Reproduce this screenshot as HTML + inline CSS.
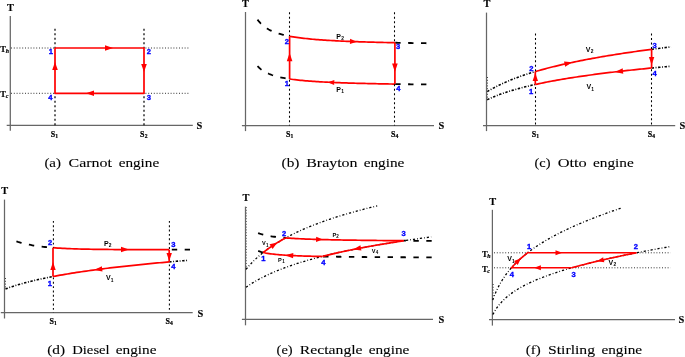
<!DOCTYPE html>
<html><head><meta charset="utf-8"><style>
html,body{margin:0;padding:0;background:#fff;width:685px;height:357px;overflow:hidden}
svg{display:block;will-change:transform}
</style></head><body>
<svg width="685" height="357" viewBox="0 0 685 357">
<line x1="10.3" y1="16" x2="10.3" y2="130.8" stroke="#666666" stroke-width="1.25" stroke-linecap="butt"/>
<line x1="6.7" y1="125.4" x2="192.8" y2="125.4" stroke="#666666" stroke-width="1.25" stroke-linecap="butt"/>
<text x="7.1" y="10.6" font-family="Liberation Serif" font-size="10.4" font-weight="bold" fill="#000" text-anchor="start" stroke="#000" stroke-width="0.15">T</text>
<text x="196.5" y="128.9" font-family="Liberation Serif" font-size="10.4" font-weight="bold" fill="#000" text-anchor="start" stroke="#000" stroke-width="0.15">S</text>
<line x1="55" y1="28.8" x2="55" y2="48" stroke="#111" stroke-width="1.3" stroke-dasharray="2 2.5" stroke-dashoffset="0" stroke-linecap="butt"/>
<line x1="55" y1="93.3" x2="55" y2="125.4" stroke="#111" stroke-width="1.3" stroke-dasharray="2 2.5" stroke-dashoffset="64.5" stroke-linecap="butt"/>
<line x1="144" y1="28.8" x2="144" y2="48" stroke="#111" stroke-width="1.3" stroke-dasharray="2 2.5" stroke-dashoffset="0" stroke-linecap="butt"/>
<line x1="144" y1="93.3" x2="144" y2="125.4" stroke="#111" stroke-width="1.3" stroke-dasharray="2 2.5" stroke-dashoffset="64.5" stroke-linecap="butt"/>
<line x1="11" y1="48" x2="55" y2="48" stroke="#333" stroke-width="1" stroke-dasharray="1 1.8" stroke-dashoffset="0" stroke-linecap="butt"/>
<line x1="144" y1="48" x2="189" y2="48" stroke="#333" stroke-width="1" stroke-dasharray="1 1.8" stroke-dashoffset="133" stroke-linecap="butt"/>
<line x1="11" y1="93.3" x2="55" y2="93.3" stroke="#333" stroke-width="1" stroke-dasharray="1 1.8" stroke-dashoffset="0" stroke-linecap="butt"/>
<line x1="144" y1="93.3" x2="189" y2="93.3" stroke="#333" stroke-width="1" stroke-dasharray="1 1.8" stroke-dashoffset="133" stroke-linecap="butt"/>
<polyline points="55,48 144,48 144,93.3 55,93.3 55,48" fill="none" stroke="#ff0000" stroke-width="1.7" stroke-opacity="1" stroke-linecap="butt" stroke-linejoin="round"/>
<polygon points="113,48 105,50.8 105,45.2" fill="#ff0000"/>
<polygon points="144,72 141.2,64 146.8,64" fill="#ff0000"/>
<polygon points="86,93.3 94,90.5 94,96.1" fill="#ff0000"/>
<polygon points="55,62 57.8,70 52.2,70" fill="#ff0000"/>
<text x="48.8" y="54.4" font-family="Liberation Sans" font-size="7.6" font-weight="bold" fill="#0000ff" text-anchor="start" stroke="#0000ff" stroke-width="0.35">1</text>
<text x="146.7" y="54.4" font-family="Liberation Sans" font-size="7.6" font-weight="bold" fill="#0000ff" text-anchor="start" stroke="#0000ff" stroke-width="0.35">2</text>
<text x="146.8" y="100.2" font-family="Liberation Sans" font-size="7.6" font-weight="bold" fill="#0000ff" text-anchor="start" stroke="#0000ff" stroke-width="0.35">3</text>
<text x="48.2" y="99.9" font-family="Liberation Sans" font-size="7.6" font-weight="bold" fill="#0000ff" text-anchor="start" stroke="#0000ff" stroke-width="0.35">4</text>
<text x="0.3" y="51.7" font-family="Liberation Serif" font-size="8.5" font-weight="bold" fill="#000" stroke="#000" stroke-width="0.2">T<tspan font-size="5.95" dx="-0.3" dy="1.2" font-style="italic">h</tspan></text>
<text x="0.3" y="96.8" font-family="Liberation Serif" font-size="8.5" font-weight="bold" fill="#000" stroke="#000" stroke-width="0.2">T<tspan font-size="5.95" dx="-0.3" dy="1.2" font-style="italic">c</tspan></text>
<text x="50.7" y="136.7" font-family="Liberation Serif" font-size="8" font-weight="bold" fill="#000" stroke="#000" stroke-width="0.2">S<tspan font-size="5.6" dx="0.2" dy="1.2">1</tspan></text>
<text x="140.1" y="136.7" font-family="Liberation Serif" font-size="8" font-weight="bold" fill="#000" stroke="#000" stroke-width="0.2">S<tspan font-size="5.6" dx="0.2" dy="1.2">2</tspan></text>
<text x="44.4" y="166.8" font-family="Liberation Serif" font-size="13" fill="#000" stroke="#000" stroke-width="0.1" textLength="16.6" lengthAdjust="spacingAndGlyphs">(a)</text>
<text x="68.5" y="166.8" font-family="Liberation Serif" font-size="13" fill="#000" stroke="#000" stroke-width="0.1" textLength="43.4" lengthAdjust="spacingAndGlyphs">Carnot</text>
<text x="118.7" y="166.8" font-family="Liberation Serif" font-size="13" fill="#000" stroke="#000" stroke-width="0.1" textLength="40.5" lengthAdjust="spacingAndGlyphs">engine</text>
<line x1="245.5" y1="12" x2="245.5" y2="131.1" stroke="#666666" stroke-width="1.25" stroke-linecap="butt"/>
<line x1="241.9" y1="125.5" x2="434" y2="125.5" stroke="#666666" stroke-width="1.25" stroke-linecap="butt"/>
<text x="242.1" y="7" font-family="Liberation Serif" font-size="10.4" font-weight="bold" fill="#000" text-anchor="start" stroke="#000" stroke-width="0.15">T</text>
<text x="438.6" y="129.4" font-family="Liberation Serif" font-size="10.4" font-weight="bold" fill="#000" text-anchor="start" stroke="#000" stroke-width="0.15">S</text>
<polyline points="257.5,19.61 259.11,21.7 260.71,23.47 262.31,25.01 263.92,26.34 265.52,27.52 267.13,28.56 268.74,29.49 270.34,30.33 271.94,31.08 273.55,31.76 275.16,32.39 276.76,32.96 278.37,33.48 279.97,33.96 281.58,34.41 283.18,34.82 284.79,35.21 286.39,35.57 288,35.9 289.6,36.22" fill="none" stroke="#000" stroke-width="1.8" stroke-dasharray="5.4 7.5" stroke-dashoffset="0" stroke-linecap="butt" stroke-linejoin="round"/>
<polyline points="394.9,42.71 396.5,42.74 398.11,42.78 399.71,42.81 401.32,42.84 402.92,42.87 404.53,42.89 406.13,42.92 407.74,42.95 409.34,42.98 410.95,43 412.56,43.03 414.16,43.06 415.76,43.08 417.37,43.11 418.98,43.13 420.58,43.15 422.19,43.18 423.79,43.2 425.39,43.22 427,43.25" fill="none" stroke="#000" stroke-width="1.8" stroke-dasharray="5.4 7.5" stroke-dashoffset="12.6" stroke-linecap="butt" stroke-linejoin="round"/>
<polyline points="289.6,36.22 291.38,36.55 293.17,36.85 294.95,37.14 296.74,37.41 298.52,37.66 300.31,37.9 302.09,38.12 303.88,38.33 305.66,38.53 307.45,38.72 309.23,38.9 311.02,39.08 312.8,39.24 314.59,39.4 316.37,39.54 318.16,39.69 319.94,39.82 321.73,39.95 323.51,40.07 325.29,40.19 327.08,40.31 328.86,40.42 330.65,40.52 332.43,40.62 334.22,40.72 336,40.82 337.79,40.91 339.57,40.99 341.36,41.08 343.14,41.16 344.93,41.24 346.71,41.32 348.5,41.39 350.28,41.46 352.07,41.53 353.85,41.6 355.64,41.66 357.42,41.72 359.21,41.78 360.99,41.84 362.77,41.9 364.56,41.96 366.34,42.01 368.13,42.06 369.91,42.12 371.7,42.17 373.48,42.21 375.27,42.26 377.05,42.31 378.84,42.35 380.62,42.4 382.41,42.44 384.19,42.48 385.98,42.52 387.76,42.56 389.55,42.6 391.33,42.64 393.12,42.68 394.9,42.71" fill="none" stroke="#ff0000" stroke-width="1.7" stroke-opacity="1" stroke-linecap="butt" stroke-linejoin="round"/>
<polyline points="257.5,66.13 259.11,67.73 260.71,69.1 262.31,70.29 263.92,71.32 265.52,72.23 267.13,73.04 268.74,73.76 270.34,74.4 271.94,74.99 273.55,75.52 275.16,76 276.76,76.45 278.37,76.86 279.97,77.23 281.58,77.58 283.18,77.9 284.79,78.2 286.39,78.48 288,78.74 289.6,78.99" fill="none" stroke="#000" stroke-width="1.8" stroke-dasharray="5.4 7.5" stroke-dashoffset="0" stroke-linecap="butt" stroke-linejoin="round"/>
<polyline points="394.9,84.06 396.5,84.09 398.11,84.11 399.71,84.14 401.32,84.16 402.92,84.18 404.53,84.21 406.13,84.23 407.74,84.25 409.34,84.27 410.95,84.29 412.56,84.31 414.16,84.33 415.76,84.35 417.37,84.37 418.98,84.39 420.58,84.41 422.19,84.43 423.79,84.45 425.39,84.46 427,84.48" fill="none" stroke="#000" stroke-width="1.8" stroke-dasharray="5.4 7.5" stroke-dashoffset="12.6" stroke-linecap="butt" stroke-linejoin="round"/>
<polyline points="289.6,78.99 291.38,79.24 293.17,79.48 294.95,79.7 296.74,79.91 298.52,80.11 300.31,80.3 302.09,80.47 303.88,80.64 305.66,80.79 307.45,80.94 309.23,81.08 311.02,81.22 312.8,81.35 314.59,81.47 316.37,81.58 318.16,81.69 319.94,81.8 321.73,81.9 323.51,82 325.29,82.09 327.08,82.18 328.86,82.27 330.65,82.35 332.43,82.43 334.22,82.51 336,82.58 337.79,82.65 339.57,82.72 341.36,82.78 343.14,82.85 344.93,82.91 346.71,82.97 348.5,83.03 350.28,83.08 352.07,83.14 353.85,83.19 355.64,83.24 357.42,83.29 359.21,83.34 360.99,83.38 362.77,83.43 364.56,83.47 366.34,83.51 368.13,83.56 369.91,83.6 371.7,83.64 373.48,83.67 375.27,83.71 377.05,83.75 378.84,83.78 380.62,83.82 382.41,83.85 384.19,83.88 385.98,83.92 387.76,83.95 389.55,83.98 391.33,84.01 393.12,84.04 394.9,84.06" fill="none" stroke="#ff0000" stroke-width="1.7" stroke-opacity="1" stroke-linecap="butt" stroke-linejoin="round"/>
<line x1="289.5" y1="12.2" x2="289.5" y2="36.22" stroke="#000" stroke-width="1.05" stroke-dasharray="2 2.5" stroke-dashoffset="0" stroke-linecap="butt"/>
<line x1="289.5" y1="78.99" x2="289.5" y2="125.5" stroke="#000" stroke-width="1.05" stroke-dasharray="2 2.5" stroke-dashoffset="66.79" stroke-linecap="butt"/>
<line x1="394.5" y1="12.2" x2="394.5" y2="42.71" stroke="#000" stroke-width="1.05" stroke-dasharray="2 2.5" stroke-dashoffset="0" stroke-linecap="butt"/>
<line x1="394.5" y1="84.06" x2="394.5" y2="125.5" stroke="#000" stroke-width="1.05" stroke-dasharray="2 2.5" stroke-dashoffset="71.86" stroke-linecap="butt"/>
<line x1="289.6" y1="78.99" x2="289.6" y2="36.22" stroke="#ff0000" stroke-width="1.7" stroke-opacity="1" stroke-linecap="butt"/>
<line x1="394.9" y1="42.71" x2="394.9" y2="84.06" stroke="#ff0000" stroke-width="1.7" stroke-opacity="1" stroke-linecap="butt"/>
<polygon points="289.6,52.75 292.4,61.25 286.8,61.25" fill="#ff0000"/>
<polygon points="394.9,72.05 392.1,63.55 397.7,63.55" fill="#ff0000"/>
<polygon points="356.8,41.71 349.91,44.05 350.1,38.85" fill="#ff0000"/>
<polygon points="327.75,82.22 334.36,80.01 334.13,85.01" fill="#ff0000"/>
<text x="284.7" y="43.5" font-family="Liberation Sans" font-size="7.6" font-weight="bold" fill="#0000ff" text-anchor="start" stroke="#0000ff" stroke-width="0.35">2</text>
<text x="284.7" y="86.2" font-family="Liberation Sans" font-size="7.6" font-weight="bold" fill="#0000ff" text-anchor="start" stroke="#0000ff" stroke-width="0.35">1</text>
<text x="396.1" y="48.6" font-family="Liberation Sans" font-size="7.6" font-weight="bold" fill="#0000ff" text-anchor="start" stroke="#0000ff" stroke-width="0.35">3</text>
<text x="396.2" y="91.1" font-family="Liberation Sans" font-size="7.6" font-weight="bold" fill="#0000ff" text-anchor="start" stroke="#0000ff" stroke-width="0.35">4</text>
<text x="336.3" y="38.6" font-family="Liberation Sans" font-size="7" font-weight="bold" fill="#000">P<tspan font-size="4.9" dx="0.2" dy="1.8">2</tspan></text>
<text x="336.3" y="91.6" font-family="Liberation Sans" font-size="7" font-weight="bold" fill="#000">P<tspan font-size="4.9" dx="0.2" dy="1.8">1</tspan></text>
<text x="285.9" y="136.6" font-family="Liberation Serif" font-size="8" font-weight="bold" fill="#000" stroke="#000" stroke-width="0.2">S<tspan font-size="5.6" dx="0.2" dy="1.2">1</tspan></text>
<text x="390.9" y="136.6" font-family="Liberation Serif" font-size="8" font-weight="bold" fill="#000" stroke="#000" stroke-width="0.2">S<tspan font-size="5.6" dx="0.2" dy="1.2">4</tspan></text>
<text x="281.6" y="166.7" font-family="Liberation Serif" font-size="13" fill="#000" stroke="#000" stroke-width="0.1" textLength="17.9" lengthAdjust="spacingAndGlyphs">(b)</text>
<text x="306.2" y="166.7" font-family="Liberation Serif" font-size="13" fill="#000" stroke="#000" stroke-width="0.1" textLength="51.4" lengthAdjust="spacingAndGlyphs">Brayton</text>
<text x="363.7" y="166.7" font-family="Liberation Serif" font-size="13" fill="#000" stroke="#000" stroke-width="0.1" textLength="40.7" lengthAdjust="spacingAndGlyphs">engine</text>
<line x1="486.5" y1="12.6" x2="486.5" y2="131.1" stroke="#666666" stroke-width="1.25" stroke-linecap="butt"/>
<line x1="483" y1="125.5" x2="675.2" y2="125.5" stroke="#666666" stroke-width="1.25" stroke-linecap="butt"/>
<text x="483.5" y="6.6" font-family="Liberation Serif" font-size="10.4" font-weight="bold" fill="#000" text-anchor="start" stroke="#000" stroke-width="0.15">T</text>
<text x="679.5" y="129.4" font-family="Liberation Serif" font-size="10.4" font-weight="bold" fill="#000" text-anchor="start" stroke="#000" stroke-width="0.15">S</text>
<polyline points="487.2,91.64 488.43,90.89 489.67,90.16 490.9,89.45 492.13,88.76 493.37,88.09 494.6,87.43 495.83,86.78 497.07,86.16 498.3,85.54 499.53,84.94 500.77,84.35 502,83.78 503.23,83.22 504.47,82.66 505.7,82.12 506.93,81.59 508.17,81.07 509.4,80.56 510.63,80.06 511.87,79.57 513.1,79.08 514.33,78.61 515.57,78.14 516.8,77.68 518.03,77.23 519.27,76.79 520.5,76.35 521.73,75.92 522.97,75.5 524.2,75.08 525.43,74.67 526.67,74.26 527.9,73.86 529.13,73.47 530.37,73.08 531.6,72.7 532.83,72.32 534.07,71.95 535.3,71.59" fill="none" stroke="#000" stroke-width="1.6" stroke-dasharray="2.4 1.6 0.9 1.6" stroke-linecap="butt" stroke-linejoin="round"/>
<polyline points="651.6,49.34 652.62,49.2 653.64,49.07 654.66,48.94 655.68,48.81 656.71,48.68 657.73,48.55 658.75,48.42 659.77,48.29 660.79,48.16 661.81,48.03 662.83,47.91 663.85,47.78 664.87,47.65 665.89,47.53 666.92,47.4 667.94,47.28 668.96,47.16 669.98,47.03 671,46.91" fill="none" stroke="#000" stroke-width="1.6" stroke-dasharray="2.4 1.6 0.9 1.6" stroke-linecap="butt" stroke-linejoin="round"/>
<polyline points="535.3,71.59 537.27,71.01 539.24,70.45 541.21,69.89 543.18,69.35 545.16,68.82 547.13,68.3 549.1,67.79 551.07,67.28 553.04,66.79 555.01,66.31 556.98,65.83 558.95,65.36 560.93,64.9 562.9,64.45 564.87,64.01 566.84,63.57 568.81,63.14 570.78,62.71 572.75,62.3 574.72,61.88 576.69,61.48 578.67,61.08 580.64,60.69 582.61,60.3 584.58,59.92 586.55,59.54 588.52,59.17 590.49,58.8 592.46,58.44 594.44,58.08 596.41,57.73 598.38,57.38 600.35,57.03 602.32,56.69 604.29,56.36 606.26,56.03 608.23,55.7 610.21,55.38 612.18,55.06 614.15,54.74 616.12,54.43 618.09,54.12 620.06,53.81 622.03,53.51 624,53.21 625.97,52.92 627.95,52.62 629.92,52.33 631.89,52.05 633.86,51.76 635.83,51.48 637.8,51.21 639.77,50.93 641.74,50.66 643.72,50.39 645.69,50.12 647.66,49.86 649.63,49.6 651.6,49.34" fill="none" stroke="#ff0000" stroke-width="1.7" stroke-opacity="1" stroke-linecap="butt" stroke-linejoin="round"/>
<polyline points="487.2,99.72 488.43,99.14 489.67,98.58 490.9,98.03 492.13,97.5 493.37,96.98 494.6,96.47 495.83,95.98 497.07,95.5 498.3,95.03 499.53,94.57 500.77,94.12 502,93.68 503.23,93.25 504.47,92.83 505.7,92.42 506.93,92.02 508.17,91.63 509.4,91.24 510.63,90.86 511.87,90.49 513.1,90.12 514.33,89.76 515.57,89.41 516.8,89.06 518.03,88.72 519.27,88.39 520.5,88.06 521.73,87.74 522.97,87.42 524.2,87.1 525.43,86.79 526.67,86.49 527.9,86.19 529.13,85.9 530.37,85.61 531.6,85.32 532.83,85.04 534.07,84.76 535.3,84.49" fill="none" stroke="#000" stroke-width="1.6" stroke-dasharray="2.4 1.6 0.9 1.6" stroke-linecap="butt" stroke-linejoin="round"/>
<polyline points="651.6,68.02 652.62,67.93 653.64,67.83 654.66,67.73 655.68,67.64 656.71,67.54 657.73,67.44 658.75,67.35 659.77,67.25 660.79,67.16 661.81,67.07 662.83,66.97 663.85,66.88 664.87,66.79 665.89,66.7 666.92,66.61 667.94,66.51 668.96,66.42 669.98,66.33 671,66.24" fill="none" stroke="#000" stroke-width="1.6" stroke-dasharray="2.4 1.6 0.9 1.6" stroke-linecap="butt" stroke-linejoin="round"/>
<polyline points="535.3,84.49 537.27,84.06 539.24,83.63 541.21,83.22 543.18,82.82 545.16,82.42 547.13,82.03 549.1,81.65 551.07,81.28 553.04,80.91 555.01,80.55 556.98,80.2 558.95,79.85 560.93,79.51 562.9,79.17 564.87,78.84 566.84,78.52 568.81,78.2 570.78,77.88 572.75,77.58 574.72,77.27 576.69,76.97 578.67,76.68 580.64,76.38 582.61,76.1 584.58,75.81 586.55,75.54 588.52,75.26 590.49,74.99 592.46,74.72 594.44,74.46 596.41,74.2 598.38,73.94 600.35,73.69 602.32,73.44 604.29,73.19 606.26,72.94 608.23,72.7 610.21,72.46 612.18,72.23 614.15,72 616.12,71.77 618.09,71.54 620.06,71.31 622.03,71.09 624,70.87 625.97,70.65 627.95,70.44 629.92,70.23 631.89,70.01 633.86,69.81 635.83,69.6 637.8,69.4 639.77,69.19 641.74,68.99 643.72,68.8 645.69,68.6 647.66,68.41 649.63,68.21 651.6,68.02" fill="none" stroke="#ff0000" stroke-width="1.7" stroke-opacity="1" stroke-linecap="butt" stroke-linejoin="round"/>
<line x1="487.5" y1="77" x2="487.5" y2="99" stroke="#333" stroke-width="0.9" stroke-dasharray="1 1.8" stroke-linecap="butt"/>
<line x1="535.5" y1="33.6" x2="535.5" y2="71.59" stroke="#000" stroke-width="1.05" stroke-dasharray="2 2.45" stroke-dashoffset="0" stroke-linecap="butt"/>
<line x1="535.5" y1="84.49" x2="535.5" y2="125.5" stroke="#000" stroke-width="1.05" stroke-dasharray="2 2.45" stroke-dashoffset="50.89" stroke-linecap="butt"/>
<line x1="651.5" y1="33.6" x2="651.5" y2="49.34" stroke="#000" stroke-width="1.05" stroke-dasharray="2 2.45" stroke-dashoffset="0" stroke-linecap="butt"/>
<line x1="651.5" y1="68.02" x2="651.5" y2="125.5" stroke="#000" stroke-width="1.05" stroke-dasharray="2 2.45" stroke-dashoffset="34.42" stroke-linecap="butt"/>
<line x1="535.3" y1="84.49" x2="535.3" y2="71.59" stroke="#ff0000" stroke-width="1.7" stroke-opacity="1" stroke-linecap="butt"/>
<line x1="651.6" y1="49.34" x2="651.6" y2="68.02" stroke="#ff0000" stroke-width="1.7" stroke-opacity="1" stroke-linecap="butt"/>
<polygon points="535.3,73 538,81 532.6,81" fill="#ff0000"/>
<polygon points="651.6,65 648.9,57 654.3,57" fill="#ff0000"/>
<polygon points="572.41,62.36 565.16,66.69 564.02,61.42" fill="#ff0000"/>
<polygon points="615.03,71.89 622.67,68.3 623.28,73.66" fill="#ff0000"/>
<text x="529.2" y="70.5" font-family="Liberation Sans" font-size="7.6" font-weight="bold" fill="#0000ff" text-anchor="start" stroke="#0000ff" stroke-width="0.35">2</text>
<text x="529" y="93.9" font-family="Liberation Sans" font-size="7.6" font-weight="bold" fill="#0000ff" text-anchor="start" stroke="#0000ff" stroke-width="0.35">1</text>
<text x="652.4" y="47.8" font-family="Liberation Sans" font-size="7.6" font-weight="bold" fill="#0000ff" text-anchor="start" stroke="#0000ff" stroke-width="0.35">3</text>
<text x="652.5" y="75.9" font-family="Liberation Sans" font-size="7.6" font-weight="bold" fill="#0000ff" text-anchor="start" stroke="#0000ff" stroke-width="0.35">4</text>
<text x="585.8" y="51.5" font-family="Liberation Sans" font-size="7" font-weight="bold" fill="#000">V<tspan font-size="4.9" dx="0.2" dy="1.8">2</tspan></text>
<text x="586.5" y="88.8" font-family="Liberation Sans" font-size="7" font-weight="bold" fill="#000">V<tspan font-size="4.9" dx="0.2" dy="1.8">1</tspan></text>
<text x="531.7" y="136.6" font-family="Liberation Serif" font-size="8" font-weight="bold" fill="#000" stroke="#000" stroke-width="0.2">S<tspan font-size="5.6" dx="0.2" dy="1.2">1</tspan></text>
<text x="647.7" y="136.6" font-family="Liberation Serif" font-size="8" font-weight="bold" fill="#000" stroke="#000" stroke-width="0.2">S<tspan font-size="5.6" dx="0.2" dy="1.2">4</tspan></text>
<text x="534.5" y="166.7" font-family="Liberation Serif" font-size="13" fill="#000" stroke="#000" stroke-width="0.1" textLength="16" lengthAdjust="spacingAndGlyphs">(c)</text>
<text x="557.7" y="166.7" font-family="Liberation Serif" font-size="13" fill="#000" stroke="#000" stroke-width="0.1" textLength="29.1" lengthAdjust="spacingAndGlyphs">Otto</text>
<text x="593" y="166.7" font-family="Liberation Serif" font-size="13" fill="#000" stroke="#000" stroke-width="0.1" textLength="40.7" lengthAdjust="spacingAndGlyphs">engine</text>
<line x1="4.5" y1="199.6" x2="4.5" y2="318.5" stroke="#666666" stroke-width="1.25" stroke-linecap="butt"/>
<line x1="0.8" y1="312.6" x2="192.7" y2="312.6" stroke="#666666" stroke-width="1.25" stroke-linecap="butt"/>
<text x="1.3" y="193.8" font-family="Liberation Serif" font-size="10.4" font-weight="bold" fill="#000" text-anchor="start" stroke="#000" stroke-width="0.15">T</text>
<text x="197.4" y="316.5" font-family="Liberation Serif" font-size="10.4" font-weight="bold" fill="#000" text-anchor="start" stroke="#000" stroke-width="0.15">S</text>
<polyline points="16.4,241.46 17.99,241.96 19.58,242.42 21.17,242.86 22.77,243.27 24.36,243.66 25.95,244.02 27.54,244.36 29.13,244.68 30.72,244.99 32.31,245.27 33.9,245.54 35.5,245.79 37.09,246.02 38.68,246.24 40.27,246.45 41.86,246.65 43.45,246.83 45.04,247 46.63,247.17 48.23,247.32 49.82,247.46 51.41,247.6 53,247.72" fill="none" stroke="#000" stroke-width="1.8" stroke-dasharray="5.4 7.5" stroke-dashoffset="0" stroke-linecap="butt" stroke-linejoin="round"/>
<polyline points="169.2,249.69 170.93,249.69 172.67,249.69 174.4,249.69 176.13,249.69 177.87,249.69 179.6,249.69 181.33,249.69 183.07,249.69 184.8,249.7 186.53,249.7 188.27,249.7 190,249.7" fill="none" stroke="#000" stroke-width="1.8" stroke-dasharray="5.4 7.5" stroke-dashoffset="10.3" stroke-linecap="butt" stroke-linejoin="round"/>
<polyline points="5.5,288.97 6.72,288.52 7.94,288.08 9.15,287.65 10.37,287.23 11.59,286.82 12.81,286.42 14.03,286.03 15.24,285.65 16.46,285.27 17.68,284.9 18.9,284.54 20.12,284.18 21.33,283.84 22.55,283.49 23.77,283.16 24.99,282.83 26.21,282.51 27.42,282.19 28.64,281.87 29.86,281.57 31.08,281.26 32.29,280.97 33.51,280.67 34.73,280.38 35.95,280.1 37.17,279.82 38.38,279.54 39.6,279.27 40.82,279 42.04,278.74 43.26,278.48 44.47,278.22 45.69,277.97 46.91,277.72 48.13,277.47 49.35,277.23 50.56,276.99 51.78,276.75 53,276.52" fill="none" stroke="#000" stroke-width="1.6" stroke-dasharray="2.4 1.6 0.9 1.6" stroke-linecap="butt" stroke-linejoin="round"/>
<polyline points="169.2,261.9 170.95,261.75 172.69,261.6 174.44,261.45 176.18,261.3 177.93,261.15 179.67,261.01 181.42,260.86 183.16,260.72 184.91,260.58 186.65,260.44 188.4,260.3" fill="none" stroke="#000" stroke-width="1.6" stroke-dasharray="2.4 1.6 0.9 1.6" stroke-linecap="butt" stroke-linejoin="round"/>
<line x1="5.5" y1="278" x2="5.5" y2="289" stroke="#333" stroke-width="0.9" stroke-dasharray="1 1.8" stroke-linecap="butt"/>
<polyline points="53,247.72 55.37,247.9 57.74,248.06 60.11,248.2 62.49,248.34 64.86,248.46 67.23,248.57 69.6,248.67 71.97,248.76 74.34,248.84 76.71,248.92 79.09,248.99 81.46,249.05 83.83,249.11 86.2,249.16 88.57,249.21 90.94,249.25 93.31,249.29 95.69,249.33 98.06,249.36 100.43,249.39 102.8,249.42 105.17,249.45 107.54,249.47 109.91,249.49 112.29,249.51 114.66,249.53 117.03,249.54 119.4,249.56 121.77,249.57 124.14,249.58 126.51,249.59 128.89,249.6 131.26,249.61 133.63,249.62 136,249.63 138.37,249.64 140.74,249.64 143.11,249.65 145.49,249.65 147.86,249.66 150.23,249.66 152.6,249.67 154.97,249.67 157.34,249.67 159.71,249.68 162.09,249.68 164.46,249.68 166.83,249.68 169.2,249.69" fill="none" stroke="#ff0000" stroke-width="1.7" stroke-opacity="1" stroke-linecap="butt" stroke-linejoin="round"/>
<polyline points="53,276.52 55.37,276.07 57.74,275.63 60.11,275.2 62.49,274.79 64.86,274.38 67.23,273.98 69.6,273.59 71.97,273.2 74.34,272.83 76.71,272.46 79.09,272.1 81.46,271.75 83.83,271.4 86.2,271.06 88.57,270.72 90.94,270.39 93.31,270.07 95.69,269.75 98.06,269.44 100.43,269.13 102.8,268.83 105.17,268.53 107.54,268.24 109.91,267.95 112.29,267.67 114.66,267.39 117.03,267.11 119.4,266.84 121.77,266.57 124.14,266.31 126.51,266.05 128.89,265.79 131.26,265.54 133.63,265.29 136,265.04 138.37,264.8 140.74,264.56 143.11,264.32 145.49,264.09 147.86,263.86 150.23,263.63 152.6,263.4 154.97,263.18 157.34,262.96 159.71,262.74 162.09,262.53 164.46,262.32 166.83,262.11 169.2,261.9" fill="none" stroke="#ff0000" stroke-width="1.7" stroke-opacity="1" stroke-linecap="butt" stroke-linejoin="round"/>
<line x1="53.4" y1="220.9" x2="53.4" y2="247.72" stroke="#000" stroke-width="1.05" stroke-dasharray="1.9 2.45" stroke-dashoffset="0" stroke-linecap="butt"/>
<line x1="53.4" y1="276.52" x2="53.4" y2="312.6" stroke="#000" stroke-width="1.05" stroke-dasharray="1.9 2.45" stroke-dashoffset="55.62" stroke-linecap="butt"/>
<line x1="169.4" y1="220.9" x2="169.4" y2="249.69" stroke="#000" stroke-width="1.05" stroke-dasharray="1.9 2.45" stroke-dashoffset="0" stroke-linecap="butt"/>
<line x1="169.4" y1="261.9" x2="169.4" y2="312.6" stroke="#000" stroke-width="1.05" stroke-dasharray="1.9 2.45" stroke-dashoffset="41" stroke-linecap="butt"/>
<line x1="53" y1="276.52" x2="53" y2="247.72" stroke="#ff0000" stroke-width="1.7" stroke-opacity="1" stroke-linecap="butt"/>
<line x1="169.2" y1="249.69" x2="169.2" y2="261.9" stroke="#ff0000" stroke-width="1.7" stroke-opacity="1" stroke-linecap="butt"/>
<polygon points="53,262 55.7,270 50.3,270" fill="#ff0000"/>
<polygon points="169.2,261 166.5,253 171.9,253" fill="#ff0000"/>
<polygon points="129,249.61 120.99,252.27 121.01,246.87" fill="#ff0000"/>
<polygon points="94.23,269.94 101.82,266.23 102.52,271.58" fill="#ff0000"/>
<text x="48" y="245" font-family="Liberation Sans" font-size="7.6" font-weight="bold" fill="#0000ff" text-anchor="start" stroke="#0000ff" stroke-width="0.35">2</text>
<text x="47.8" y="285.5" font-family="Liberation Sans" font-size="7.6" font-weight="bold" fill="#0000ff" text-anchor="start" stroke="#0000ff" stroke-width="0.35">1</text>
<text x="171.2" y="247.1" font-family="Liberation Sans" font-size="7.6" font-weight="bold" fill="#0000ff" text-anchor="start" stroke="#0000ff" stroke-width="0.35">3</text>
<text x="171.3" y="268.6" font-family="Liberation Sans" font-size="7.6" font-weight="bold" fill="#0000ff" text-anchor="start" stroke="#0000ff" stroke-width="0.35">4</text>
<text x="104" y="245.5" font-family="Liberation Sans" font-size="7" font-weight="bold" fill="#000">P<tspan font-size="4.9" dx="0.2" dy="1.8">2</tspan></text>
<text x="105.9" y="279.8" font-family="Liberation Sans" font-size="7" font-weight="bold" fill="#000">V<tspan font-size="4.9" dx="0.2" dy="1.8">1</tspan></text>
<text x="49.4" y="324" font-family="Liberation Serif" font-size="8" font-weight="bold" fill="#000" stroke="#000" stroke-width="0.2">S<tspan font-size="5.6" dx="0.2" dy="1.2">1</tspan></text>
<text x="165.4" y="324" font-family="Liberation Serif" font-size="8" font-weight="bold" fill="#000" stroke="#000" stroke-width="0.2">S<tspan font-size="5.6" dx="0.2" dy="1.2">4</tspan></text>
<text x="47.2" y="354.1" font-family="Liberation Serif" font-size="13" fill="#000" stroke="#000" stroke-width="0.1" textLength="17.8" lengthAdjust="spacingAndGlyphs">(d)</text>
<text x="72.2" y="354.1" font-family="Liberation Serif" font-size="13" fill="#000" stroke="#000" stroke-width="0.1" textLength="37.5" lengthAdjust="spacingAndGlyphs">Diesel</text>
<text x="115.8" y="354.1" font-family="Liberation Serif" font-size="13" fill="#000" stroke="#000" stroke-width="0.1" textLength="40.6" lengthAdjust="spacingAndGlyphs">engine</text>
<line x1="245.5" y1="206.6" x2="245.5" y2="325.3" stroke="#666666" stroke-width="1.25" stroke-linecap="butt"/>
<line x1="241.9" y1="319.4" x2="433" y2="319.4" stroke="#666666" stroke-width="1.25" stroke-linecap="butt"/>
<text x="242.5" y="200.8" font-family="Liberation Serif" font-size="10.4" font-weight="bold" fill="#000" text-anchor="start" stroke="#000" stroke-width="0.15">T</text>
<text x="438.5" y="322.5" font-family="Liberation Serif" font-size="10.4" font-weight="bold" fill="#000" text-anchor="start" stroke="#000" stroke-width="0.15">S</text>
<polyline points="246,269.32 247.33,267.73 248.65,266.21 249.98,264.74 251.3,263.33 252.63,261.97 253.95,260.65 255.28,259.38 256.6,258.14 257.93,256.95 259.25,255.79 260.58,254.66 261.9,253.57 263.23,252.5 264.55,251.47 265.88,250.46 267.2,249.47 268.53,248.52 269.85,247.58 271.18,246.67 272.51,245.77 273.83,244.9 275.16,244.05 276.48,243.21 277.81,242.39 279.13,241.59 280.46,240.81 281.78,240.04 283.11,239.29 284.43,238.55 285.76,237.82 287.08,237.11 288.41,236.41 289.73,235.72 291.06,235.05 292.38,234.38 293.71,233.73 295.03,233.09 296.36,232.46 297.68,231.84 299.01,231.23 300.34,230.62 301.66,230.03 302.99,229.45 304.31,228.87 305.64,228.31 306.96,227.75 308.29,227.2 309.61,226.65 310.94,226.12 312.26,225.59 313.59,225.07 314.91,224.56 316.24,224.05 317.56,223.55 318.89,223.05 320.21,222.56 321.54,222.08 322.86,221.61 324.19,221.14 325.52,220.67 326.84,220.21 328.17,219.76 329.49,219.31 330.82,218.86 332.14,218.43 333.47,217.99 334.79,217.56 336.12,217.14 337.44,216.72 338.77,216.3 340.09,215.89 341.42,215.49 342.74,215.09 344.07,214.69 345.39,214.29 346.72,213.9 348.04,213.52 349.37,213.13 350.69,212.76 352.02,212.38 353.35,212.01 354.67,211.64 356,211.28 357.32,210.92 358.65,210.56 359.97,210.2 361.3,209.85 362.62,209.51 363.95,209.16 365.27,208.82 366.6,208.48 367.92,208.14 369.25,207.81 370.57,207.48 371.9,207.15 373.22,206.83 374.55,206.51 375.87,206.19 377.2,205.87" fill="none" stroke="#000" stroke-width="1.3" stroke-dasharray="2.2 2 0.8 2" stroke-linecap="butt" stroke-linejoin="round"/>
<line x1="246.5" y1="207" x2="246.5" y2="268" stroke="#555" stroke-width="0.8" stroke-dasharray="1 1.8" stroke-linecap="butt"/>
<polyline points="246,287.26 247.56,286.18 249.11,285.14 250.67,284.13 252.23,283.15 253.78,282.2 255.34,281.29 256.89,280.4 258.45,279.53 260.01,278.69 261.56,277.88 263.12,277.08 264.68,276.31 266.23,275.55 267.79,274.82 269.34,274.1 270.9,273.4 272.46,272.71 274.01,272.04 275.57,271.39 277.13,270.75 278.68,270.12 280.24,269.5 281.79,268.9 283.35,268.31 284.91,267.73 286.46,267.16 288.02,266.61 289.58,266.06 291.13,265.52 292.69,264.99 294.25,264.47 295.8,263.96 297.36,263.46 298.91,262.97 300.47,262.48 302.03,262.01 303.58,261.54 305.14,261.08 306.7,260.62 308.25,260.17 309.81,259.73 311.36,259.29 312.92,258.86 314.48,258.44 316.03,258.02 317.59,257.61 319.15,257.21 320.7,256.81 322.26,256.41 323.82,256.02 325.37,255.64 326.93,255.26 328.48,254.88 330.04,254.51 331.6,254.14 333.15,253.78 334.71,253.43 336.27,253.07 337.82,252.72 339.38,252.38 340.93,252.04 342.49,251.7 344.05,251.37 345.6,251.04 347.16,250.71 348.72,250.39 350.27,250.07 351.83,249.75 353.38,249.44 354.94,249.13 356.5,248.83 358.05,248.52 359.61,248.22 361.17,247.93 362.72,247.63 364.28,247.34 365.84,247.05 367.39,246.77 368.95,246.48 370.5,246.2 372.06,245.93 373.62,245.65 375.17,245.38 376.73,245.11 378.29,244.84 379.84,244.58 381.4,244.31 382.95,244.05 384.51,243.79 386.07,243.54 387.62,243.28 389.18,243.03 390.74,242.78 392.29,242.53 393.85,242.29 395.41,242.05 396.96,241.8 398.52,241.56 400.07,241.33 401.63,241.09 403.19,240.86 404.74,240.62 406.3,240.39 407.86,240.16 409.41,239.94 410.97,239.71 412.52,239.49 414.08,239.27 415.64,239.05 417.19,238.83 418.75,238.61 420.31,238.4 421.86,238.18 423.42,237.97 424.97,237.76 426.53,237.55 428.09,237.34 429.64,237.13 431.2,236.93" fill="none" stroke="#000" stroke-width="1.3" stroke-dasharray="2.2 2 0.8 2" stroke-linecap="butt" stroke-linejoin="round"/>
<polyline points="258.1,233.14 259.73,233.71 261.36,234.22 262.99,234.66 264.62,235.06 266.25,235.41 267.88,235.73 269.51,236.02 271.14,236.29 272.76,236.53 274.39,236.75 276.02,236.95 277.65,237.14 279.28,237.32 280.91,237.48 282.54,237.63 284.17,237.77 285.8,237.9" fill="none" stroke="#000" stroke-width="1.8" stroke-dasharray="5.4 7.5" stroke-dashoffset="0" stroke-linecap="butt" stroke-linejoin="round"/>
<polyline points="403.7,240.7 405.36,240.71 407.03,240.72 408.69,240.73 410.36,240.74 412.02,240.76 413.69,240.77 415.35,240.78 417.02,240.79 418.68,240.8 420.35,240.81 422.01,240.82 423.68,240.83 425.34,240.84 427.01,240.85 428.67,240.85 430.34,240.86 432,240.87" fill="none" stroke="#000" stroke-width="1.8" stroke-dasharray="5.4 7.5" stroke-dashoffset="3.2" stroke-linecap="butt" stroke-linejoin="round"/>
<polyline points="258.2,250.95 258.89,251.21 259.57,251.45 260.26,251.67 260.94,251.88 261.63,252.07 262.31,252.25 263,252.42" fill="none" stroke="#000" stroke-width="1.8" stroke-dasharray="5.4 7.5" stroke-dashoffset="0" stroke-linecap="butt" stroke-linejoin="round"/>
<polyline points="322.5,256.48 324.02,256.51 325.54,256.54 327.06,256.57 328.58,256.59 330.1,256.62 331.62,256.64 333.15,256.66 334.67,256.69 336.19,256.71 337.71,256.73 339.23,256.75 340.75,256.77 342.27,256.79 343.79,256.81 345.31,256.82 346.83,256.84 348.35,256.86 349.88,256.88 351.4,256.89 352.92,256.91 354.44,256.92 355.96,256.94 357.48,256.95 359,256.97 360.52,256.98 362.04,256.99 363.56,257.01 365.08,257.02 366.6,257.03 368.12,257.04 369.65,257.06 371.17,257.07 372.69,257.08 374.21,257.09 375.73,257.1 377.25,257.11 378.77,257.12 380.29,257.13 381.81,257.14 383.33,257.15 384.85,257.16 386.38,257.17 387.9,257.18 389.42,257.19 390.94,257.2 392.46,257.21 393.98,257.22 395.5,257.22 397.02,257.23 398.54,257.24 400.06,257.25 401.58,257.26 403.1,257.26 404.62,257.27 406.15,257.28 407.67,257.28 409.19,257.29 410.71,257.3 412.23,257.31 413.75,257.31 415.27,257.32 416.79,257.33 418.31,257.33 419.83,257.34 421.35,257.34 422.88,257.35 424.4,257.36 425.92,257.36 427.44,257.37 428.96,257.37 430.48,257.38 432,257.38" fill="none" stroke="#000" stroke-width="1.8" stroke-dasharray="5.4 7.5" stroke-dashoffset="12.3" stroke-linecap="butt" stroke-linejoin="round"/>
<polyline points="263,252.68 264.2,251.74 265.4,250.82 266.6,249.92 267.8,249.04 269,248.18 270.2,247.34 271.4,246.52 272.6,245.71 273.8,244.92 275,244.15 276.2,243.39 277.4,242.64 278.6,241.91 279.8,241.2 281,240.49 282.2,239.8 283.4,239.12 284.6,238.45 285.8,237.8" fill="none" stroke="#ff0000" stroke-width="1.7" stroke-opacity="1" stroke-linecap="butt" stroke-linejoin="round"/>
<polyline points="285.8,237.9 287.8,238.06 289.8,238.2 291.79,238.33 293.79,238.45 295.79,238.56 297.79,238.67 299.79,238.77 301.79,238.86 303.78,238.95 305.78,239.03 307.78,239.11 309.78,239.19 311.78,239.26 313.78,239.32 315.77,239.39 317.77,239.45 319.77,239.51 321.77,239.56 323.77,239.61 325.77,239.66 327.76,239.71 329.76,239.76 331.76,239.8 333.76,239.84 335.76,239.89 337.76,239.93 339.75,239.96 341.75,240 343.75,240.03 345.75,240.07 347.75,240.1 349.75,240.13 351.74,240.16 353.74,240.19 355.74,240.22 357.74,240.25 359.74,240.27 361.74,240.3 363.73,240.32 365.73,240.35 367.73,240.37 369.73,240.39 371.73,240.42 373.73,240.44 375.72,240.46 377.72,240.48 379.72,240.5 381.72,240.52 383.72,240.54 385.72,240.56 387.71,240.57 389.71,240.59 391.71,240.61 393.71,240.62 395.71,240.64 397.71,240.65 399.7,240.67 401.7,240.68 403.7,240.7" fill="none" stroke="#ff0000" stroke-width="1.7" stroke-opacity="1" stroke-linecap="butt" stroke-linejoin="round"/>
<polyline points="322.5,256.35 324.58,255.83 326.66,255.32 328.75,254.82 330.83,254.32 332.91,253.84 334.99,253.36 337.07,252.89 339.16,252.43 341.24,251.97 343.32,251.52 345.4,251.08 347.48,250.64 349.57,250.21 351.65,249.79 353.73,249.37 355.81,248.96 357.89,248.55 359.98,248.15 362.06,247.76 364.14,247.37 366.22,246.98 368.31,246.6 370.39,246.23 372.47,245.85 374.55,245.49 376.63,245.13 378.72,244.77 380.8,244.41 382.88,244.07 384.96,243.72 387.04,243.38 389.13,243.04 391.21,242.71 393.29,242.38 395.37,242.05 397.45,241.73 399.54,241.41 401.62,241.09 403.7,240.78" fill="none" stroke="#ff0000" stroke-width="1.7" stroke-opacity="1" stroke-linecap="butt" stroke-linejoin="round"/>
<polyline points="263,252.42 264.53,252.77 266.05,253.08 267.58,253.35 269.1,253.6 270.63,253.82 272.15,254.02 273.68,254.2 275.21,254.37 276.73,254.52 278.26,254.66 279.78,254.79 281.31,254.91 282.83,255.02 284.36,255.13 285.88,255.23 287.41,255.32 288.94,255.4 290.46,255.48 291.99,255.56 293.51,255.63 295.04,255.7 296.56,255.76 298.09,255.82 299.62,255.88 301.14,255.93 302.67,255.98 304.19,256.03 305.72,256.08 307.24,256.12 308.77,256.17 310.29,256.21 311.82,256.25 313.35,256.29 314.87,256.32 316.4,256.36 317.92,256.39 319.45,256.42 320.97,256.45 322.5,256.48" fill="none" stroke="#ff0000" stroke-width="1.7" stroke-opacity="1" stroke-linecap="butt" stroke-linejoin="round"/>
<polygon points="277.35,242.62 272.57,249.05 269.53,244.35" fill="#ff0000"/>
<polygon points="322.9,239.59 316.03,242.05 316.18,236.75" fill="#ff0000"/>
<polygon points="353.07,249.49 360.41,245.31 361.44,250.61" fill="#ff0000"/>
<polygon points="285.21,255.2 293.34,252.93 293.05,258.33" fill="#ff0000"/>
<text x="261.3" y="261.3" font-family="Liberation Sans" font-size="7.6" font-weight="bold" fill="#0000ff" text-anchor="start" stroke="#0000ff" stroke-width="0.35">1</text>
<text x="282" y="235.6" font-family="Liberation Sans" font-size="7.6" font-weight="bold" fill="#0000ff" text-anchor="start" stroke="#0000ff" stroke-width="0.35">2</text>
<text x="401.6" y="236.1" font-family="Liberation Sans" font-size="7.6" font-weight="bold" fill="#0000ff" text-anchor="start" stroke="#0000ff" stroke-width="0.35">3</text>
<text x="321.2" y="265.3" font-family="Liberation Sans" font-size="7.6" font-weight="bold" fill="#0000ff" text-anchor="start" stroke="#0000ff" stroke-width="0.35">4</text>
<text x="261.9" y="245.2" font-family="Liberation Sans" font-size="5.6" font-weight="bold" fill="#000">V<tspan font-size="4.5" dx="0.4" dy="1.5">1</tspan></text>
<text x="278.1" y="261.8" font-family="Liberation Sans" font-size="5.6" font-weight="bold" fill="#000">P<tspan font-size="4.5" dx="0.3" dy="1.5">1</tspan></text>
<text x="332.4" y="236.9" font-family="Liberation Sans" font-size="5.6" font-weight="bold" fill="#000">P<tspan font-size="4.5" dx="0.1" dy="1.5">2</tspan></text>
<text x="371.8" y="252.9" font-family="Liberation Sans" font-size="5.6" font-weight="bold" fill="#000">V<tspan font-size="4.5" dx="0.1" dy="1.5">4</tspan></text>
<text x="276.6" y="354.1" font-family="Liberation Serif" font-size="13" fill="#000" stroke="#000" stroke-width="0.1" textLength="16.1" lengthAdjust="spacingAndGlyphs">(e)</text>
<text x="299.8" y="354.1" font-family="Liberation Serif" font-size="13" fill="#000" stroke="#000" stroke-width="0.1" textLength="62.8" lengthAdjust="spacingAndGlyphs">Rectangle</text>
<text x="368.7" y="354.1" font-family="Liberation Serif" font-size="13" fill="#000" stroke="#000" stroke-width="0.1" textLength="40.7" lengthAdjust="spacingAndGlyphs">engine</text>
<line x1="492.4" y1="209.8" x2="492.4" y2="325.6" stroke="#666666" stroke-width="1.25" stroke-linecap="butt"/>
<line x1="489" y1="319.6" x2="675" y2="319.6" stroke="#666666" stroke-width="1.25" stroke-linecap="butt"/>
<text x="489.3" y="204.7" font-family="Liberation Serif" font-size="10.4" font-weight="bold" fill="#000" text-anchor="start" stroke="#000" stroke-width="0.15">T</text>
<text x="678.5" y="322.5" font-family="Liberation Serif" font-size="10.4" font-weight="bold" fill="#000" text-anchor="start" stroke="#000" stroke-width="0.15">S</text>
<line x1="494" y1="252.8" x2="528.4" y2="252.8" stroke="#333" stroke-width="1" stroke-dasharray="1 1.8" stroke-dashoffset="0" stroke-linecap="butt"/>
<line x1="636.4" y1="252.8" x2="670.5" y2="252.8" stroke="#333" stroke-width="1" stroke-dasharray="1 1.8" stroke-dashoffset="142.4" stroke-linecap="butt"/>
<line x1="494" y1="267.8" x2="511.1" y2="267.8" stroke="#333" stroke-width="1" stroke-dasharray="1 1.8" stroke-dashoffset="0" stroke-linecap="butt"/>
<line x1="571.8" y1="267.8" x2="670.5" y2="267.8" stroke="#333" stroke-width="1" stroke-dasharray="1 1.8" stroke-dashoffset="77.8" stroke-linecap="butt"/>
<polyline points="492.75,300.04 493.67,297.49 494.6,295.12 495.52,292.9 496.45,290.83 497.37,288.87 498.3,287.02 499.22,285.27 500.15,283.6 501.07,282.01 502,280.49 502.92,279.03 503.85,277.63 504.77,276.28 505.7,274.98 506.62,273.73 507.55,272.51 508.47,271.34 509.4,270.2 510.32,269.1 511.25,268.03 512.17,266.99 513.1,265.98 514.02,264.99 514.95,264.03 515.87,263.09 516.8,262.17 517.72,261.27 518.64,260.4 519.57,259.54 520.49,258.7 521.42,257.88 522.34,257.08 523.27,256.29 524.19,255.51 525.12,254.75 526.04,254.01 526.97,253.27 527.89,252.55 528.82,251.84 529.74,251.15 530.67,250.46 531.59,249.79 532.52,249.12 533.44,248.47 534.37,247.82 535.29,247.19 536.22,246.56 537.14,245.94 538.07,245.33 538.99,244.73 539.92,244.14 540.84,243.55 541.77,242.97 542.69,242.4 543.62,241.84 544.54,241.28 545.46,240.73 546.39,240.18 547.31,239.64 548.24,239.11 549.16,238.59 550.09,238.06 551.01,237.55 551.94,237.04 552.86,236.53 553.79,236.03 554.71,235.54 555.64,235.05 556.56,234.56 557.49,234.08 558.41,233.61 559.34,233.13 560.26,232.67 561.19,232.2 562.11,231.74 563.04,231.29 563.96,230.84 564.89,230.39 565.81,229.95 566.74,229.5 567.66,229.07 568.59,228.64 569.51,228.21 570.43,227.78 571.36,227.36 572.28,226.94 573.21,226.52 574.13,226.1 575.06,225.69 575.98,225.29 576.91,224.88 577.83,224.48 578.76,224.08 579.68,223.68 580.61,223.29 581.53,222.9 582.46,222.51 583.38,222.12 584.31,221.74 585.23,221.36 586.16,220.98 587.08,220.6 588.01,220.23 588.93,219.86 589.86,219.49 590.78,219.12 591.71,218.76 592.63,218.39 593.56,218.03 594.48,217.67 595.41,217.32 596.33,216.96 597.25,216.61 598.18,216.26 599.1,215.91 600.03,215.56 600.95,215.22 601.88,214.87 602.8,214.53 603.73,214.19 604.65,213.85 605.58,213.52 606.5,213.18 607.43,212.85 608.35,212.52 609.28,212.19 610.2,211.86 611.13,211.53 612.05,211.21 612.98,210.88 613.9,210.56 614.83,210.24 615.75,209.92 616.68,209.6 617.6,209.28 618.53,208.97 619.45,208.66 620.38,208.34 621.3,208.03" fill="none" stroke="#000" stroke-width="1.3" stroke-dasharray="2.2 2 0.8 2" stroke-linecap="butt" stroke-linejoin="round"/>
<line x1="493.2" y1="284" x2="493.2" y2="300" stroke="#333" stroke-width="0.9" stroke-dasharray="1 1.8" stroke-linecap="butt"/>
<polyline points="492.9,314.52 494.01,312.43 495.12,310.53 496.23,308.8 497.34,307.2 498.45,305.72 499.56,304.34 500.67,303.05 501.79,301.82 502.9,300.67 504.01,299.58 505.12,298.53 506.23,297.54 507.34,296.59 508.45,295.67 509.56,294.8 510.67,293.95 511.78,293.14 512.89,292.36 514,291.6 515.11,290.86 516.22,290.15 517.34,289.45 518.45,288.78 519.56,288.13 520.67,287.49 521.78,286.87 522.89,286.26 524,285.67 525.11,285.09 526.22,284.53 527.33,283.98 528.44,283.43 529.55,282.9 530.66,282.38 531.77,281.88 532.88,281.38 534,280.89 535.11,280.4 536.22,279.93 537.33,279.47 538.44,279.01 539.55,278.56 540.66,278.12 541.77,277.68 542.88,277.25 543.99,276.83 545.1,276.41 546.21,276 547.32,275.59 548.43,275.19 549.55,274.8 550.66,274.41 551.77,274.03 552.88,273.65 553.99,273.27 555.1,272.9 556.21,272.54 557.32,272.17 558.43,271.82 559.54,271.46 560.65,271.11 561.76,270.77 562.87,270.42 563.98,270.09 565.09,269.75 566.21,269.42 567.32,269.09 568.43,268.77 569.54,268.44 570.65,268.12 571.76,267.81 572.87,267.49 573.98,267.18 575.09,266.88 576.2,266.57 577.31,266.27 578.42,265.97 579.53,265.67 580.64,265.38 581.76,265.08 582.87,264.79 583.98,264.51 585.09,264.22 586.2,263.94 587.31,263.65 588.42,263.37 589.53,263.1 590.64,262.82 591.75,262.55 592.86,262.28 593.97,262.01 595.08,261.74 596.19,261.47 597.31,261.21 598.42,260.95 599.53,260.69 600.64,260.43 601.75,260.17 602.86,259.91 603.97,259.66 605.08,259.41 606.19,259.16 607.3,258.91 608.41,258.66 609.52,258.41 610.63,258.17 611.74,257.92 612.85,257.68 613.97,257.44 615.08,257.2 616.19,256.96 617.3,256.72 618.41,256.49 619.52,256.25 620.63,256.02 621.74,255.79 622.85,255.56 623.96,255.33 625.07,255.1 626.18,254.87 627.29,254.64 628.4,254.42 629.52,254.19 630.63,253.97 631.74,253.75 632.85,253.52 633.96,253.3 635.07,253.08 636.18,252.87 637.29,252.65 638.4,252.43 639.51,252.22 640.62,252 641.73,251.79 642.84,251.58 643.95,251.36 645.06,251.15 646.18,250.94 647.29,250.73 648.4,250.52 649.51,250.32 650.62,250.11 651.73,249.9 652.84,249.7 653.95,249.49 655.06,249.29 656.17,249.09 657.28,248.88 658.39,248.68 659.5,248.48 660.61,248.28 661.73,248.08 662.84,247.88 663.95,247.69 665.06,247.49 666.17,247.29 667.28,247.1 668.39,246.9 669.5,246.71" fill="none" stroke="#000" stroke-width="1.3" stroke-dasharray="2.2 2 0.8 2" stroke-linecap="butt" stroke-linejoin="round"/>
<polyline points="528.4,252.8 636.4,252.8" fill="none" stroke="#ff0000" stroke-width="1.6" stroke-opacity="1" stroke-linecap="butt" stroke-linejoin="round"/>
<polyline points="571.8,267.8 511.1,267.8" fill="none" stroke="#ff0000" stroke-width="1.6" stroke-opacity="1" stroke-linecap="butt" stroke-linejoin="round"/>
<polyline points="571.8,267.8 573.46,267.33 575.11,266.87 576.77,266.42 578.43,265.97 580.08,265.53 581.74,265.09 583.39,264.66 585.05,264.23 586.71,263.81 588.36,263.39 590.02,262.98 591.68,262.57 593.33,262.16 594.99,261.76 596.65,261.37 598.3,260.97 599.96,260.59 601.62,260.2 603.27,259.82 604.93,259.44 606.58,259.07 608.24,258.7 609.9,258.33 611.55,257.96 613.21,257.6 614.87,257.24 616.52,256.89 618.18,256.54 619.84,256.19 621.49,255.84 623.15,255.49 624.81,255.15 626.46,254.81 628.12,254.47 629.77,254.14 631.43,253.81 633.09,253.48 634.74,253.15 636.4,252.82" fill="none" stroke="#ff0000" stroke-width="1.6" stroke-opacity="1" stroke-linecap="butt" stroke-linejoin="round"/>
<polyline points="511.1,268.2 512.01,267.17 512.92,266.17 513.83,265.19 514.74,264.24 515.65,263.31 516.56,262.4 517.47,261.51 518.38,260.64 519.29,259.79 520.21,258.96 521.12,258.15 522.03,257.35 522.94,256.57 523.85,255.8 524.76,255.05 525.67,254.31 526.58,253.58 527.49,252.86 528.4,252.16" fill="none" stroke="#ff0000" stroke-width="1.6" stroke-opacity="1" stroke-linecap="butt" stroke-linejoin="round"/>
<polygon points="562.3,252.8 555.5,255.3 555.5,250.3" fill="#ff0000"/>
<polygon points="534.1,267.8 540.9,265.3 540.9,270.3" fill="#ff0000"/>
<polygon points="596.89,261.3 603.12,257.18 604.3,262.24" fill="#ff0000"/>
<polygon points="520.95,258.23 517.7,264.99 514,261.06" fill="#ff0000"/>
<text x="527" y="248.5" font-family="Liberation Sans" font-size="7.6" font-weight="bold" fill="#0000ff" text-anchor="start" stroke="#0000ff" stroke-width="0.35">1</text>
<text x="633.8" y="248.9" font-family="Liberation Sans" font-size="7.6" font-weight="bold" fill="#0000ff" text-anchor="start" stroke="#0000ff" stroke-width="0.35">2</text>
<text x="571.5" y="276.8" font-family="Liberation Sans" font-size="7.6" font-weight="bold" fill="#0000ff" text-anchor="start" stroke="#0000ff" stroke-width="0.35">3</text>
<text x="509.7" y="277" font-family="Liberation Sans" font-size="7.6" font-weight="bold" fill="#0000ff" text-anchor="start" stroke="#0000ff" stroke-width="0.35">4</text>
<text x="507.2" y="261.2" font-family="Liberation Sans" font-size="7" font-weight="bold" fill="#000">V<tspan font-size="4.9" dx="0.2" dy="1.8">1</tspan></text>
<text x="608.6" y="264.6" font-family="Liberation Sans" font-size="7" font-weight="bold" fill="#000">V<tspan font-size="4.9" dx="0.2" dy="1.8">2</tspan></text>
<text x="482" y="256.8" font-family="Liberation Serif" font-size="8.5" font-weight="bold" fill="#000" stroke="#000" stroke-width="0.2">T<tspan font-size="5.95" dx="-0.3" dy="1.2" font-style="italic">h</tspan></text>
<text x="482" y="271.8" font-family="Liberation Serif" font-size="8.5" font-weight="bold" fill="#000" stroke="#000" stroke-width="0.2">T<tspan font-size="5.95" dx="-0.3" dy="1.2" font-style="italic">c</tspan></text>
<text x="525.8" y="354.1" font-family="Liberation Serif" font-size="13" fill="#000" stroke="#000" stroke-width="0.1" textLength="14.9" lengthAdjust="spacingAndGlyphs">(f)</text>
<text x="548" y="354.1" font-family="Liberation Serif" font-size="13" fill="#000" stroke="#000" stroke-width="0.1" textLength="47" lengthAdjust="spacingAndGlyphs">Stirling</text>
<text x="601.5" y="354.1" font-family="Liberation Serif" font-size="13" fill="#000" stroke="#000" stroke-width="0.1" textLength="40.6" lengthAdjust="spacingAndGlyphs">engine</text>
</svg>
</body></html>
